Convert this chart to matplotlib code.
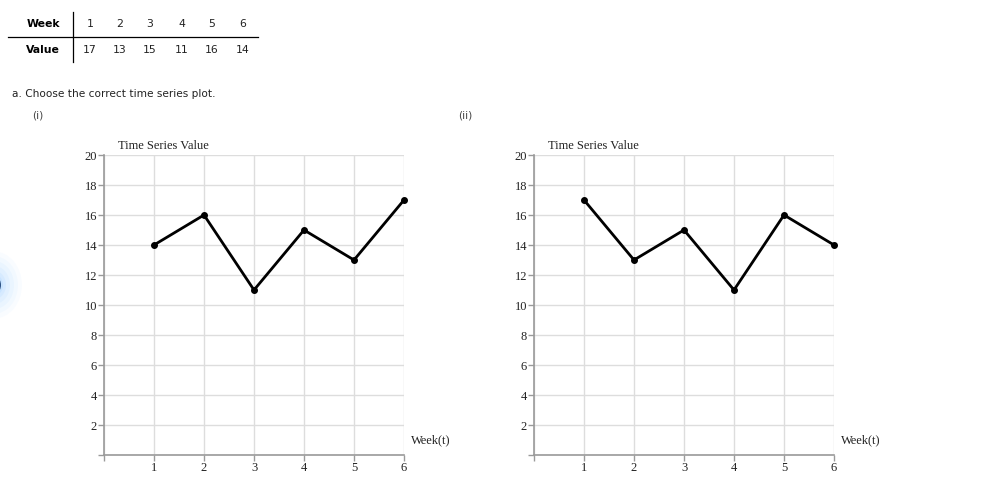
import matplotlib
matplotlib.use('Agg')
import matplotlib.pyplot as plt
from matplotlib.patches import Ellipse

# table data
weeks = [1, 2, 3, 4, 5, 6]
table_values = [17, 13, 15, 11, 16, 14]

# plot (i) shows the reversed series, plot (ii) the table order
series_i = [14, 16, 11, 15, 13, 17]
series_ii = [17, 13, 15, 11, 16, 14]
y_ticks = [0, 2, 4, 6, 8, 10, 12, 14, 16, 18, 20]

W, H = 990, 503
fig = plt.figure(figsize=(W / 100, H / 100), dpi=100)
fig.patch.set_facecolor('white')


def px(x, y):
    return x / W, 1 - y / H


sans = 'DejaVu Sans'
serif = 'Liberation Serif'

# --- table ---
fig.text(*px(60, 24), 'Week', fontsize=7.8, fontweight='bold', ha='right', va='center', family=sans)
fig.text(*px(60, 50), 'Value', fontsize=7.8, fontweight='bold', ha='right', va='center', family=sans)
col_x = [90, 120, 150, 182, 212, 243]
for cx, w, v in zip(col_x, weeks, table_values):
    fig.text(*px(cx, 24), str(w), fontsize=7.8, ha='center', va='center', family=sans, color='#222')
    fig.text(*px(cx, 50), str(v), fontsize=7.8, ha='center', va='center', family=sans, color='#222')
fig.add_artist(plt.Line2D([8 / W, 258 / W], [1 - 37 / H, 1 - 37 / H], color='black', lw=0.9))
fig.add_artist(plt.Line2D([73 / W, 73 / W], [1 - 12 / H, 1 - 62 / H], color='black', lw=0.9))

fig.text(*px(12, 94), 'a. Choose the correct time series plot.', fontsize=7.6, ha='left', va='center',
         family=sans, color='#222')
fig.text(*px(32, 115), '(i)', fontsize=7.6, ha='left', va='center', family=sans, color='#444')
fig.text(*px(458, 115), '(ii)', fontsize=7.6, ha='left', va='center', family=sans, color='#444')

# soft blue focus glow on the left edge
for r, a in [(28, 0.03), (24, 0.04), (20, 0.05), (16, 0.06), (12, 0.08), (9, 0.1)]:
    fig.add_artist(Ellipse(px(-6, 285), 2 * r / W, 2 * r * 1.2 / H, color='#5ab0ff', alpha=a, lw=0))
fig.add_artist(Ellipse(px(-3, 285), 8 / W, 14 / H, color='#123a70', alpha=0.85, lw=0))


def draw(x0, vals):
    ax = fig.add_axes([x0 / W, 1 - 455 / H, 300 / W, 300 / H])
    ax.set_xlim(0, 6)
    ax.set_ylim(0, 20)
    ax.set_xticks([0] + weeks)
    ax.set_xticklabels([''] + [str(w) for w in weeks])
    ax.set_yticks(y_ticks)
    ax.set_yticklabels([''] + [str(t) for t in y_ticks[1:]])
    ax.grid(True, color='#dddddd', lw=1)
    ax.set_axisbelow(True)
    for s in ['top', 'right']:
        ax.spines[s].set_visible(False)
    for s in ['left', 'bottom']:
        ax.spines[s].set_color('#9a9a9a')
        ax.spines[s].set_linewidth(1.2)
    ax.tick_params(length=4, width=1, color='#9a9a9a', labelsize=9, pad=1)
    for lab in ax.get_xticklabels() + ax.get_yticklabels():
        lab.set_family(serif)
        lab.set_color('#222')
    ax.plot(weeks, vals, color='black', lw=2, marker='o', ms=4, clip_on=False, zorder=5)
    ax.text(14 / 300, 1 + 9 / 300, 'Time Series Value', transform=ax.transAxes, fontsize=9,
            family=serif, ha='left', va='center', color='#222')
    ax.text(1 + 7 / 300, 15 / 300, 'Week(t)', transform=ax.transAxes, fontsize=9,
            family=serif, ha='left', va='center', color='#222')
    return ax


draw(104, series_i)
draw(534, series_ii)

fig.savefig('out.png', dpi=100)
